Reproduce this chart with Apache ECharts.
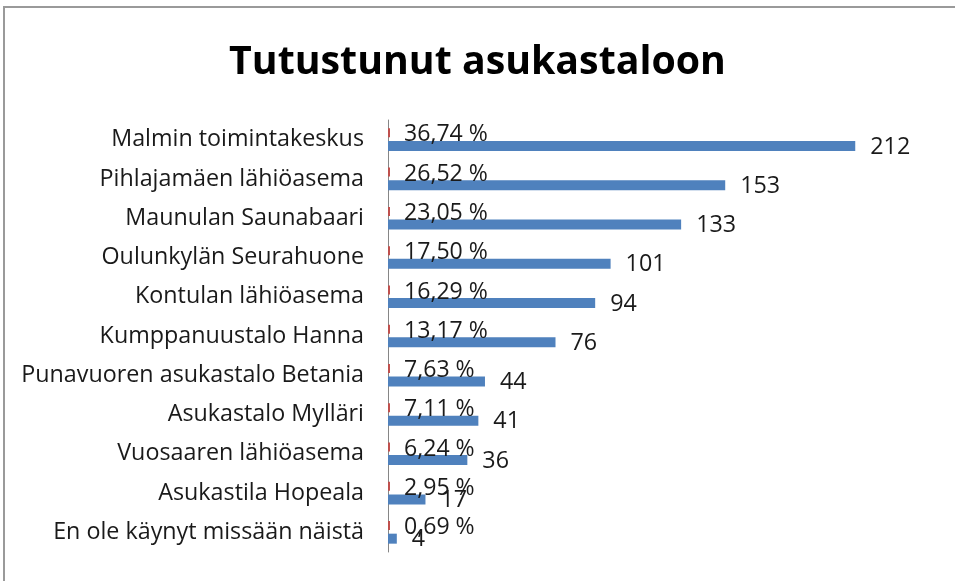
<!DOCTYPE html>
<html>
<head>
<meta charset="utf-8">
<script src="https://cdn.jsdelivr.net/npm/echarts@6/dist/echarts.min.js"></script>
<style>html,body{margin:0;padding:0;background:#fff}#c{width:955px;height:581px}</style>
</head>
<body>
<div id="c"></div>
<script>
const categories = ["Malmin toimintakeskus","Pihlajamäen lähiöasema","Maunulan Saunabaari","Oulunkylän Seurahuone","Kontulan lähiöasema","Kumppanuustalo Hanna","Punavuoren asukastalo Betania","Asukastalo Mylläri","Vuosaaren lähiöasema","Asukastila Hopeala","En ole käynyt missään näistä"];
const counts = [212,153,133,101,94,76,44,41,36,17,4];
const percents = [36.74,26.52,23.05,17.50,16.29,13.17,7.63,7.11,6.24,2.95,0.69];
const titleText = "Tutustunut asukastaloon";

const FAMILY = "'Open Sans', 'Noto Sans', sans-serif";
const cv = document.createElement('canvas').getContext('2d');
function fit(text, weight, target){
  cv.font = weight + " 100px " + FAMILY;
  return Math.round(1000 * target / cv.measureText(text).width) / 10;
}
const titleSize = fit(titleText, 'bold', 497);
const catSize = fit("En ole käynyt missään näistä", 'normal', 311);
const pctSize = fit("36,74 %", 'normal', 84);
const cntSize = fit("212", 'normal', 40);

const chart = echarts.init(document.getElementById('c'));
chart.setOption({
  animation: false,
  backgroundColor: '#fff',
  title: {
    text: titleText, left: 'center', top: 38,
    textStyle: {fontFamily: FAMILY, fontWeight: 'bold', fontSize: titleSize, color: '#000'}
  },
  graphic: [{type: 'rect', shape: {x: 4, y: 7, width: 1200, height: 1200}, style: {fill: 'none', stroke: '#9a9a9a', lineWidth: 2}, silent: true}],
  grid: {left: 388, right: 16, top: 120, bottom: 29, containLabel: false},
  xAxis: {type: 'value', min: 0, max: 250, show: false},
  yAxis: {
    type: 'category', data: categories, inverse: true,
    axisLine: {show: true, lineStyle: {color: '#868686', width: 1}},
    axisTick: {show: false},
    axisLabel: {margin: 24, fontFamily: FAMILY, fontSize: catSize, color: '#1a1a1a', verticalAlign: 'middle', padding: [5, 0, 0, 0]}
  },
  series: [
    {
      name: 'pct', type: 'bar', data: percents.map(p => p / 100), barWidth: 9, barGap: '40%', barMinHeight: 2,
      itemStyle: {color: '#C0504D'},
      label: {show: true, position: 'right', distance: 14, offset: [0, 2], fontFamily: FAMILY, fontSize: pctSize, color: '#1a1a1a',
        formatter: p => percents[p.dataIndex].toFixed(2).replace('.', ',') + ' %'}
    },
    {
      name: 'cnt', type: 'bar', data: counts, barWidth: 10,
      itemStyle: {color: '#4F81BD'},
      label: {show: true, position: 'right', distance: 15, offset: [0, 1], fontFamily: FAMILY, fontSize: cntSize, color: '#1a1a1a'}
    }
  ]
});
</script>
</body>
</html>
